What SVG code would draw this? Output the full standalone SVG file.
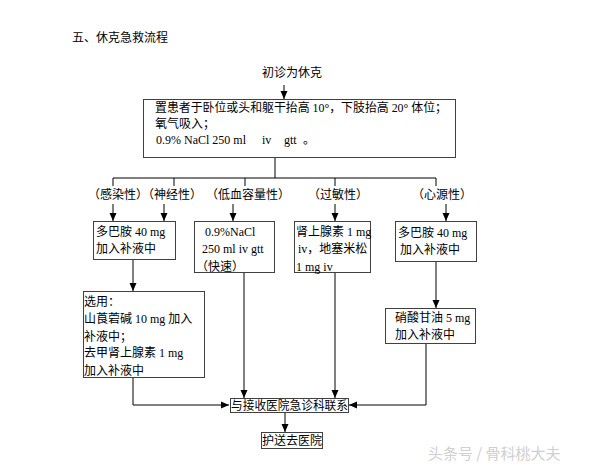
<svg xmlns="http://www.w3.org/2000/svg" width="597" height="470" viewBox="0 0 597 470">
<style>
text{font-family:"Liberation Serif","Noto Sans CJK SC",serif;font-size:12px;fill:#000}
.cn{font-family:"Noto Sans CJK SC","Liberation Sans",sans-serif}
.box{fill:#fff;stroke:#404040;stroke-width:1}
.ln{fill:none;stroke:#000;stroke-width:1}
.wm{font-family:"Noto Sans CJK SC",sans-serif;font-size:15px;fill:#d0d0d0}
</style>
<defs>
<marker id="ah" viewBox="0 0 8 8" refX="8" refY="4" markerWidth="8" markerHeight="8" markerUnits="userSpaceOnUse" orient="auto">
<path d="M0,0.5 L8,4 L0,7.5 Z" fill="#000"/>
</marker>
</defs>
<rect width="597" height="470" fill="#fff"/>
<text class="cn" x="72" y="42">五、休克急救流程</text>
<text class="cn" x="262" y="77">初诊为休克</text>
<text class="cn" x="88" y="199">（感染性）（神经性）</text>
<text class="cn" x="206" y="199">（低血容量性）</text>
<text class="cn" x="308" y="199">（过敏性）</text>
<text class="cn" x="412" y="199">（心源性）</text>

<g id="connectors">
<line class="ln" x1="284" y1="85" x2="284" y2="99" marker-end="url(#ah)"/>
<line class="ln" x1="275" y1="158" x2="275" y2="178"/>
<line class="ln" x1="113" y1="178" x2="436" y2="178"/>
<line class="ln" x1="113" y1="178" x2="113" y2="186"/>
<line class="ln" x1="174" y1="178" x2="174" y2="186"/>
<line class="ln" x1="245" y1="178" x2="245" y2="186"/>
<line class="ln" x1="335" y1="178" x2="335" y2="186"/>
<line class="ln" x1="436" y1="178" x2="436" y2="186"/>
<line class="ln" x1="113" y1="204" x2="113" y2="221" marker-end="url(#ah)"/>
<line class="ln" x1="164" y1="204" x2="164" y2="221" marker-end="url(#ah)"/>
<line class="ln" x1="233" y1="204" x2="233" y2="221" marker-end="url(#ah)"/>
<line class="ln" x1="335" y1="204" x2="335" y2="221" marker-end="url(#ah)"/>
<line class="ln" x1="446" y1="204" x2="446" y2="221" marker-end="url(#ah)"/>
<line class="ln" x1="133" y1="260" x2="133" y2="291" marker-end="url(#ah)"/>
<line class="ln" x1="244" y1="273" x2="244" y2="398" marker-end="url(#ah)"/>
<line class="ln" x1="335" y1="273" x2="335" y2="398" marker-end="url(#ah)"/>
<line class="ln" x1="436" y1="262" x2="436" y2="308" marker-end="url(#ah)"/>
<polyline class="ln" points="133,378 133,405 229,405" marker-end="url(#ah)"/>
<polyline class="ln" points="426,343 426,405 349,405" marker-end="url(#ah)"/>
<line class="ln" x1="285" y1="412" x2="285" y2="432" marker-end="url(#ah)"/>
</g>

<g id="n-main">
<rect class="box" x="143.5" y="99.5" width="312" height="58"/>
<text x="155" y="112" textLength="292" lengthAdjust="spacingAndGlyphs"><tspan class="cn">置患者于卧位或头和躯干抬高</tspan> 10°<tspan class="cn">，下肢抬高</tspan> 20° <tspan class="cn">体位；</tspan></text>
<text class="cn" x="155" y="128">氧气吸入；</text>
<text x="156" y="144">0.9% NaCl 250 ml</text>
<text x="262" y="144">iv</text>
<text x="284" y="144">gtt</text>
<text class="cn" x="303" y="144">。</text>
</g>

<g id="n-a">
<rect class="box" x="93.5" y="221.5" width="82" height="38"/>
<text x="96" y="236"><tspan class="cn">多巴胺</tspan> 40 mg</text>
<text class="cn" x="96" y="253">加入补液中</text>
</g>

<g id="n-b">
<rect class="box" x="194.5" y="221.5" width="80" height="51"/>
<text x="205" y="236">0.9%NaCl</text>
<text x="202" y="253">250 ml iv gtt</text>
<text class="cn" x="196" y="271">（快速）</text>
</g>

<g id="n-c">
<rect class="box" x="294.5" y="221.5" width="76" height="51"/>
<text x="296" y="236"><tspan class="cn">肾上腺素</tspan> 1 mg</text>
<text x="298" y="253">iv<tspan class="cn">，地塞米松</tspan></text>
<text x="296" y="271">1 mg iv</text>
</g>

<g id="n-d">
<rect class="box" x="395.5" y="221.5" width="81" height="40"/>
<text x="398" y="237"><tspan class="cn">多巴胺</tspan> 40 mg</text>
<text class="cn" x="400" y="254">加入补液中</text>
</g>

<g id="n-e">
<rect class="box" x="83.5" y="291.5" width="121" height="86"/>
<text class="cn" x="84" y="306">选用：</text>
<text x="84" y="323"><tspan class="cn">山莨菪碱</tspan> 10 mg <tspan class="cn">加入</tspan></text>
<text class="cn" x="84" y="341">补液中；</text>
<text x="84" y="357"><tspan class="cn">去甲肾上腺素</tspan> 1 mg</text>
<text class="cn" x="84" y="375">加入补液中</text>
</g>

<g id="n-h">
<rect class="box" x="385.5" y="308.5" width="90" height="35"/>
<text x="395" y="322"><tspan class="cn">硝酸甘油</tspan> 5 mg</text>
<text class="cn" x="395" y="339">加入补液中</text>
</g>

<g id="n-f">
<rect class="box" x="230.5" y="398.5" width="118" height="14"/>
<text class="cn" x="231" y="410" textLength="117" lengthAdjust="spacingAndGlyphs">与接收医院急诊科联系</text>
</g>

<g id="n-g">
<rect class="box" x="261.5" y="432.5" width="61" height="16"/>
<text class="cn" x="262" y="445" textLength="60" lengthAdjust="spacingAndGlyphs">护送去医院</text>
</g>

<text class="wm" x="428" y="459">头条号 / 骨科桃大夫</text>
</svg>
